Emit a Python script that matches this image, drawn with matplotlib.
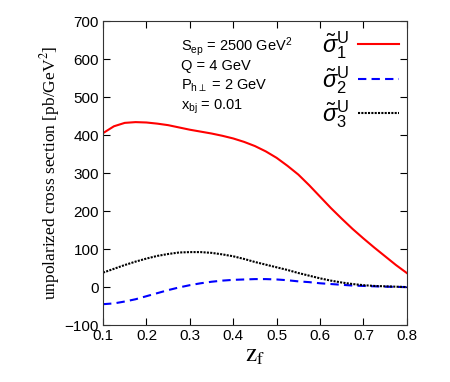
import numpy as np
import matplotlib
matplotlib.use("Agg")
import matplotlib.pyplot as plt

plt.rcParams['font.family'] = ['Liberation Sans', 'DejaVu Sans']
plt.rcParams['mathtext.fontset'] = 'custom'
plt.rcParams['mathtext.rm'] = 'Liberation Sans'
plt.rcParams['mathtext.it'] = 'Liberation Sans:italic'

z = [0.1, 0.125, 0.15, 0.175, 0.2, 0.225, 0.25, 0.275, 0.3, 0.325, 0.35, 0.375,
     0.4, 0.425, 0.45, 0.475, 0.5, 0.525, 0.55, 0.575, 0.6, 0.625, 0.65, 0.675,
     0.7, 0.725, 0.75, 0.775, 0.8]
sig1 = [405, 423, 432, 434, 433, 430, 426, 420, 414, 409, 404, 398,
        391, 382, 371, 357, 340, 319, 296, 268, 238, 208, 180, 153,
        128, 104, 81, 58, 37]
sig2 = [-45, -43, -38, -32, -24, -16, -8, -1, 5, 10, 14, 17,
        19, 20, 21, 21, 20, 18, 15, 13, 10, 8, 6, 4,
        3, 2, 1, 0.5, 0]
sig3 = [38, 48, 58, 67, 75, 82, 87, 91, 92, 92, 90, 86,
        81, 74, 66, 59, 52, 45, 37, 30, 23, 17, 12, 8,
        5, 3, 2, 1, 0]

xticks = [0.1, 0.2, 0.3, 0.4, 0.5, 0.6, 0.7, 0.8]
yticks = [-100, 0, 100, 200, 300, 400, 500, 600, 700]

fig = plt.figure(figsize=(4.5, 3.82), dpi=100)
ax = fig.add_axes([0.229, 0.149, 0.675, 0.796])

lab = r'$\tilde{\sigma}^{\rm U}_{\rm %d}$'
ax.plot(z, sig1, color='#ff0000', lw=1.5, label=lab % 1)
ax.plot(z, sig2, color='#0000ff', lw=1.5, ls=(0, (4, 2.5)), label=lab % 2)
ax.plot(z, sig3, color='black', lw=1.5, ls=(0, (1, 0.6)), label=lab % 3)

ax.set_xlim(0.1, 0.8)
ax.set_ylim(-100, 700)
ax.set_xticks(xticks)
ax.set_xticklabels([str(t) for t in xticks])
ax.set_yticks(yticks)
ax.tick_params(direction='in', top=True, right=True, labelsize=11, length=5, pad=3)
for s in ax.spines.values():
    s.set_color('#333333')

ax.set_ylabel('unpolarized cross section [pb/GeV$^2$]', family='Liberation Serif',
              fontsize=12.5, labelpad=2, math_fontfamily='stix')
ax.set_xlabel(r'$\mathrm{z}_\mathrm{f}$', fontsize=18, labelpad=0, math_fontfamily='stix')

txt = ['S$_{\\rm ep}$ = 2500 GeV$^2$', 'Q = 4 GeV', 'P$_{\\rm h\\perp}$ = 2 GeV', 'x$_{\\rm bj}$ = 0.01']
for i, t in enumerate(txt):
    ax.text(0.258, 0.903 - i * 0.065, t, transform=ax.transAxes, fontsize=10.5, va='baseline')

leg = ax.legend(loc='upper right', frameon=False, markerfirst=False, fontsize=17,
                handlelength=1.7, labelspacing=0.12, borderaxespad=0.05, handletextpad=0.4,
                borderpad=0.3)

fig.savefig('out.png', dpi=100)
